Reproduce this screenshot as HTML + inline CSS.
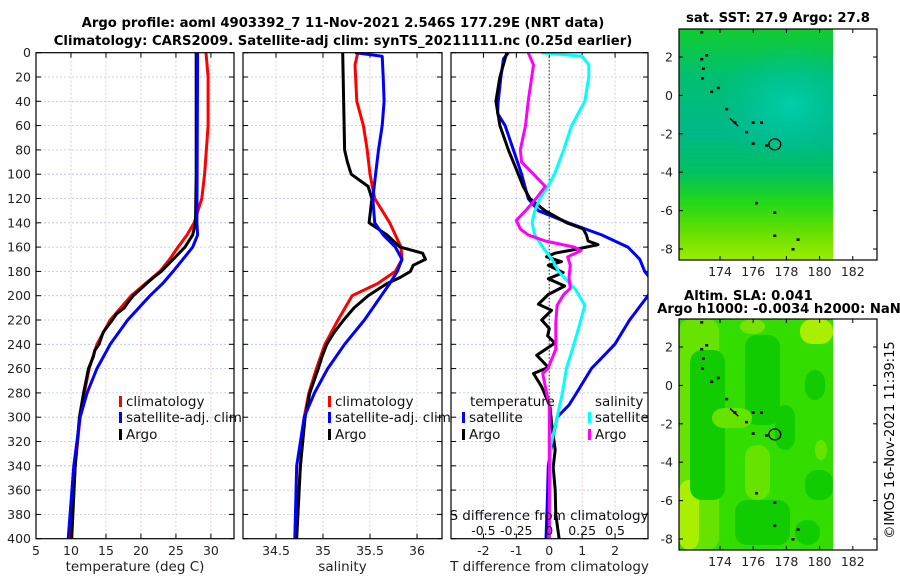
<!DOCTYPE html>
<html><head><meta charset="utf-8">
<style>
html,body{margin:0;padding:0;background:#fff;}
svg{display:block;font-family:"DejaVu Sans","Liberation Sans",sans-serif;}
</style></head>
<body>
<svg id="fig" width="900" height="580" viewBox="0 0 900 580" xmlns="http://www.w3.org/2000/svg">
<defs>
<clipPath id="c1"><rect x="36" y="52" width="198" height="487"/></clipPath>
<clipPath id="c2"><rect x="243" y="52" width="199" height="487"/></clipPath>
<clipPath id="c3"><rect x="451" y="52" width="197" height="487"/></clipPath>
<clipPath id="mc1"><rect x="679" y="29" width="154" height="231"/></clipPath>
<linearGradient id="sstg" x1="0" y1="0" x2="0" y2="1">
<stop offset="0" stop-color="#12cc30"/><stop offset="0.2" stop-color="#00c070"/><stop offset="0.45" stop-color="#00b888"/>
<stop offset="0.62" stop-color="#00c060"/><stop offset="0.75" stop-color="#22d818"/><stop offset="0.88" stop-color="#66e000"/><stop offset="1" stop-color="#9cec00"/>
</linearGradient>
<radialGradient id="sstb" cx="0.5" cy="0.5" r="0.5"><stop offset="0" stop-color="#00d0b0" stop-opacity="0.9"/><stop offset="1" stop-color="#00c0a0" stop-opacity="0"/></radialGradient>
</defs>
<g id="title" font-weight="bold" font-size="13.2" text-anchor="middle">
<text x="343" y="27">Argo profile: aoml 4903392_7 11-Nov-2021 2.546S 177.29E (NRT data)</text>
<text x="343" y="45">Climatology: CARS2009. Satellite-adj clim: synTS_20211111.nc (0.25d earlier)</text>
</g>
<g id="p1"></g>
<g id="p2"></g>
<g id="p3"></g>
<g id="m1"></g>
<g id="m2"></g>
<text x="894" y="440" font-size="13" text-anchor="middle" transform="rotate(-90 894 440)">©IMOS 16-Nov-2021 11:39:15</text>
</svg>
<script>
// ---- data ----
const depthTicks=[0,20,40,60,80,100,120,140,160,180,200,220,240,260,280,300,320,340,360,380,400];
const tempTicks=[5,10,15,20,25,30];
const salTicks=[34.5,35,35.5,36];
const dTTicks=[-2,-1,0,1,2];
const dSTicks=[-0.5,-0.25,0,0.25,0.5];
const dSTickLabels=["-0.5","-0.25","0","0.25","0.5"];

const tClimDepth=[0,20,60,100,120,140,150,160,170,180,200,220,240,260,280,300,340,400];
const tClimVal=[29.3,29.6,29.6,29.1,28.7,27.6,26.6,25.3,24.1,22.7,18.6,15.6,13.7,12.6,11.9,11.3,10.6,10.0];
const tSatDepth=[0,140,150,160,170,180,190,200,220,240,260,280,300,340,400];
const tSatVal=[28.1,28.0,28.1,27.4,26.0,24.6,23.1,21.3,18.1,15.6,13.7,12.3,11.3,10.4,9.6];
const tArgoDepth=[0,100,140,150,160,170,180,185,190,200,205,210,215,220,230,240,245,250,260,280,300,340,400];
const tArgoVal=[27.9,27.9,27.8,27.4,26.3,24.6,22.9,21.8,20.8,18.9,18.2,17.6,16.5,15.9,14.6,14.0,13.4,13.2,12.5,11.8,11.2,10.6,10.1];

const sClimDepth=[0,10,40,60,80,100,120,140,160,170,180,190,200,220,240,260,280,300,340,400];
const sClimVal=[35.37,35.34,35.36,35.43,35.47,35.5,35.55,35.71,35.83,35.84,35.77,35.58,35.31,35.16,35.02,34.93,34.85,34.80,34.76,34.71];
const sSatDepth=[0,3,20,40,60,80,100,120,140,150,160,170,180,190,200,220,240,260,280,300,340,400];
const sSatVal=[35.34,35.63,35.64,35.65,35.63,35.59,35.56,35.53,35.55,35.64,35.77,35.84,35.79,35.71,35.62,35.44,35.23,35.05,34.91,34.80,34.72,34.70];
const sArgoDepth=[0,80,90,100,110,120,140,150,160,165,170,175,180,185,190,200,210,220,230,240,250,260,280,300,340,400];
const sArgoVal=[35.21,35.23,35.26,35.30,35.48,35.52,35.49,35.68,35.82,36.06,36.09,35.96,35.93,35.82,35.68,35.48,35.33,35.22,35.12,35.04,34.99,34.95,34.86,34.81,34.76,34.72];

const dTSatDepth=[0,5,20,40,50,60,80,100,110,120,130,140,150,160,170,180,190,200,220,240,260,280,290,300,320,340,370,400];
const dTSatVal=[-1.24,-1.39,-1.47,-1.55,-1.57,-1.34,-1.09,-0.84,-0.74,-0.64,-0.33,0.58,1.59,2.39,2.75,2.9,3.2,3.0,2.44,1.99,1.28,0.83,0.6,0.24,0.09,-0.03,-0.06,-0.1];
const dTArgoDepth=[0,20,40,60,80,100,110,120,130,140,145,150,155,158,162,165,168,172,175,181,186,192,199,207,212,220,227,233,239,249,259,264,275,291,307,327,341,360,380,400];
const dTArgoVal=[-1.29,-1.5,-1.62,-1.5,-1.24,-0.94,-0.79,-0.59,-0.13,0.53,1.03,1.13,1.18,1.48,0.78,0.17,-0.08,0.37,-0.03,0.42,-0.03,0.47,-0.03,-0.33,0.07,-0.23,0,-0.05,0.17,-0.38,-0.03,-0.48,-0.23,0.02,0.08,0.18,0.12,0.18,0.2,0.3];
const dSSatDepth=[0,3,10,20,40,50,60,80,100,110,120,130,140,150,160,170,180,195,208,220,239,260,280,300,324,350,400];
const dSSatVal=[-0.06,0.25,0.30,0.30,0.27,0.22,0.17,0.11,0.04,-0.01,-0.07,-0.11,-0.13,-0.11,-0.05,0.02,0.07,0.2,0.27,0.24,0.19,0.13,0.1,0.06,0.01,0.01,0.0];
const dSArgoDepth=[0,10,40,60,80,90,100,110,120,130,138,145,150,155,160,163,168,175,185,194,199,208,222,236,244,260,264,291,400];
const dSArgoVal=[-0.16,-0.12,-0.16,-0.18,-0.22,-0.21,-0.12,-0.03,-0.10,-0.18,-0.25,-0.22,-0.16,-0.03,0.19,0.24,0.14,0.16,0.15,0.16,0.11,0.06,0.05,0.05,0.05,-0.01,-0.05,0,0.0];

const latTicks=[2,0,-2,-4,-6,-8];
const lonTicks=[174,176,178,180,182];
const argoLon=177.3, argoLat=-2.55;

// ---- helpers ----
const NS="http://www.w3.org/2000/svg";
function mk(tag,attrs,parent){const e=document.createElementNS(NS,tag);for(const k in attrs)e.setAttribute(k,attrs[k]);parent.appendChild(e);return e;}
const Y0=52.7,YK=1.215;
const yD=d=>Y0+d*YK;
function lin(d0,d1,r0,r1){return v=>r0+(v-d0)*(r1-r0)/(d1-d0);}

function panel(g,left,right,xScale,xticks,xlabels,xTitle,showY){
  mk('rect',{x:left,y:52.7,width:right-left,height:486,fill:'#fff'},g);
  const grid=mk('g',{stroke:'#b8c4ec','stroke-width':0.8,'stroke-dasharray':'2,2'},g);
  
  
  depthTicks.forEach(d=>{ if(d>0&&d<400) mk('line',{x1:left,x2:right,y1:yD(d),y2:yD(d)},grid);});
  xticks.forEach(t=>{const x=xScale(t); if(x>left+1&&x<right-1) mk('line',{x1:x,x2:x,y1:52.7,y2:538.7,stroke:'#e0c0c0'},grid);});
  const ax=mk('g',{stroke:'#000','stroke-width':1},g);
  depthTicks.forEach(d=>{mk('line',{x1:left,x2:left+5,y1:yD(d),y2:yD(d)},ax);mk('line',{x1:right-5,x2:right,y1:yD(d),y2:yD(d)},ax);});
  xticks.forEach(t=>{const x=xScale(t);mk('line',{x1:x,x2:x,y1:538.7,y2:533.7},ax);mk('line',{x1:x,x2:x,y1:52.7,y2:57.7},ax);});
  const tl=mk('g',{'font-size':12.5,'text-anchor':'middle',fill:'#222'},g);
  
  
  xticks.forEach((t,i)=>{const e=mk('text',{x:xScale(t),y:555},tl);e.textContent=xlabels[i];});
  if(showY){
    const yl=mk('g',{'font-size':12.5,'text-anchor':'end',fill:'#222'},g);
    
    
    depthTicks.forEach(d=>{const e=mk('text',{x:31,y:yD(d)+4.5},yl);e.textContent=d;});
  }
  const xt=mk('text',{x:(left+right)/2,y:571,'font-size':13.5,'text-anchor':'middle',fill:'#222'},g);
  
  
  xt.textContent=xTitle;
  return ax;
}
function frame(g,left,right){
  mk('rect',{x:left,y:52.7,width:right-left,height:486,fill:'none',stroke:'#000','stroke-width':1.2},g);
}
function series(g,depths,vals,xScale,color,clip,name,w){
  const pts=depths.map((d,i)=>xScale(vals[i]).toFixed(1)+','+yD(d).toFixed(1)).join(' ');
  const p=mk('polyline',{points:pts,fill:'none',stroke:color,'stroke-width':w||3,'stroke-linejoin':'round','clip-path':'url(#'+clip+')'},g);
  
  
}
function legendEntry(g,x,y,color,label,name){
  const gg=mk('g',{},g);
  
  
  if(color) mk('rect',{x:x,y:y-10,width:3,height:11,fill:color},gg);
  const t=mk('text',{x:x+7,y:y,'font-size':13.5,fill:'#111'},gg);t.textContent=label;
}

// ---- panel 1 ----
const p1=document.getElementById('p1');
const xT=lin(5,33.3,36,234);
panel(p1,36,234,xT,tempTicks,tempTicks.map(String),'temperature (deg C)',true);
series(p1,tClimDepth,tClimVal,xT,'#ff0000','c1','climatology-line');
series(p1,tArgoDepth,tArgoVal,xT,'#000000','c1','argo-line');
series(p1,tSatDepth,tSatVal,xT,'#0000ff','c1','satellite-clim-line');
frame(p1,36,234);
legendEntry(p1,119,406,'#ff0000','climatology','legend-climatology');
legendEntry(p1,119,422,'#0000ff','satellite-adj. clim','legend-satellite');
legendEntry(p1,119,439,'#000000','Argo','legend-argo');

// ---- panel 2 ----
const p2=document.getElementById('p2');
const xS=lin(34.5,36,276,417);
panel(p2,243,442,xS,salTicks,["34.5","35","35.5","36"],'salinity',false);
series(p2,sClimDepth,sClimVal,xS,'#ff0000','c2','climatology-line');
series(p2,sArgoDepth,sArgoVal,xS,'#000000','c2','argo-line');
series(p2,sSatDepth,sSatVal,xS,'#0000ff','c2','satellite-clim-line');
frame(p2,243,442);
legendEntry(p2,328,406,'#ff0000','climatology','legend-climatology');
legendEntry(p2,328,422,'#0000ff','satellite-adj. clim','legend-satellite');
legendEntry(p2,328,439,'#000000','Argo','legend-argo');

// ---- panel 3 ----
const p3=document.getElementById('p3');
const xdT=lin(-3,3,450.5,648);
const xdS=lin(-0.75,0.75,450.5,648);
panel(p3,451,648,xdT,dTTicks,dTTicks.map(String),'T difference from climatology',false);
const z=mk('line',{x1:xdT(0),x2:xdT(0),y1:52.7,y2:538.7,stroke:'#335533','stroke-width':1.2,'stroke-dasharray':'1.5,2'},p3);


series(p3,dTSatDepth,dTSatVal,xdT,'#0000ff','c3','t-diff-satellite');
series(p3,dTArgoDepth,dTArgoVal,xdT,'#000000','c3','t-diff-argo');
series(p3,dSSatDepth,dSSatVal,xdS,'#00ffff','c3','s-diff-satellite');
series(p3,dSArgoDepth,dSArgoVal,xdS,'#ff00ff','c3','s-diff-argo');
frame(p3,451,648);
const tlab=mk('text',{x:470,y:406,'font-size':13.5,fill:'#111'},p3);tlab.textContent='temperature';


const slab=mk('text',{x:595,y:406,'font-size':13.5,fill:'#111'},p3);slab.textContent='salinity';


legendEntry(p3,462,422,'#0000ff','satellite','legend-t-satellite');
legendEntry(p3,462,439,'#000000','Argo','legend-t-argo');
legendEntry(p3,588,422,'#00ffff','satellite','legend-s-satellite');
legendEntry(p3,588,439,'#ff00ff','Argo','legend-s-argo');
const sTitle=mk('text',{x:549,y:520,'font-size':13.5,'text-anchor':'middle',fill:'#111'},p3);


sTitle.textContent='S difference from climatology';
const sl=mk('g',{'font-size':12.5,'text-anchor':'middle',fill:'#111'},p3);


dSTicks.forEach((t,i)=>{const e=mk('text',{x:xdS(t),y:535},sl);e.textContent=dSTickLabels[i];});

// ---- maps ----
const lonX=lin(174,176,720,753.2);
function mapAxes(g,top,bottom){
  const latY=lin(2,0,top+28,top+66.4);
  mk('rect',{x:679,y:top,width:198,height:bottom-top,fill:'none',stroke:'#000','stroke-width':1.2},g);
  const ax=mk('g',{stroke:'#000'},g);
  const lab=mk('g',{'font-size':12.5,fill:'#222'},g);
  latTicks.forEach(l=>{const y=latY(l);mk('line',{x1:679,x2:683,y1:y,y2:y},ax);mk('line',{x1:873,x2:877,y1:y,y2:y},ax);
    const e=mk('text',{x:673,y:y+4.5,'text-anchor':'end'},lab);e.textContent=l;});
  lonTicks.forEach(l=>{const x=lonX(l);mk('line',{x1:x,x2:x,y1:bottom,y2:bottom-4},ax);mk('line',{x1:x,x2:x,y1:top,y2:top+4},ax);
    const e=mk('text',{x:x,y:bottom+16,'text-anchor':'middle'},lab);e.textContent=l;});
  return latY;
}
function islands(g,latY){
  const isl=[[172.9,3.3],[172.9,1.9],[173.0,1.4],[172.95,0.9],[173.5,0.2],[173.9,0.4],[174.4,-0.7],[174.9,-1.4],[175.6,-1.9],[176.0,-1.4],[176.5,-1.4],[176.0,-2.5],[176.8,-2.6],[176.2,-5.6],[177.3,-6.1],[177.3,-7.3],[178.7,-7.5],[178.4,-8.0],[173.2,2.1]];
  const ig=mk('g',{fill:'#000'},g);
  
  
  isl.forEach(p=>mk('rect',{x:lonX(p[0])-1.5,y:latY(p[1])-1,width:3,height:2.5},ig));
  mk('path',{d:`M${lonX(174.6)} ${latY(-1.2)} L${lonX(175.1)} ${latY(-1.6)}`,stroke:'#000','stroke-width':1.5},ig);
  const c=mk('ellipse',{cx:lonX(argoLon),cy:latY(argoLat),rx:6,ry:5.5,fill:'none',stroke:'#000','stroke-width':1.3},g);
  
  
}
const m1=document.getElementById('m1');
mk('rect',{x:679,y:29,width:154,height:231,fill:'url(#sstg)'},m1);
mk('ellipse',{cx:790,cy:105,rx:75,ry:60,fill:'url(#sstb)','clip-path':'url(#mc1)'},m1);
const ly1=mapAxes(m1,29,260);
islands(m1,ly1);
const t1=mk('text',{x:778,y:22,'font-size':13.2,'font-weight':'bold','text-anchor':'middle'},m1);
t1.textContent='sat. SST: 27.9 Argo: 27.8';



const m2=document.getElementById('m2');
mk('rect',{x:679,y:319,width:154,height:231,fill:'#33dd00'},m2);
const blobs=[[679,319,40,231,'#66e400'],[679,480,20,70,'#aaee00'],[800,319,33,25,'#aaee00'],[740,319,25,15,'#77e400'],
 [690,350,35,150,'#11cc00'],[745,335,35,90,'#11cc00'],[775,405,20,45,'#11cc00'],[735,500,55,45,'#11cc00'],[795,520,25,25,'#11cc00'],[805,470,28,30,'#11cc00'],[805,370,20,30,'#11cc00'],
 [745,445,25,55,'#66e400'],[712,408,40,20,'#66e400'],[815,440,12,20,'#66e400']];
blobs.forEach(b=>mk('rect',{x:b[0],y:b[1],width:b[2],height:b[3],fill:b[4],rx:12},m2));
const ly2=mapAxes(m2,319,550);
islands(m2,ly2);
const t2=mk('text',{x:684,y:300,'font-size':13.2,'font-weight':'bold'},m2);
t2.textContent='Altim. SLA: 0.041';


const t3=mk('text',{x:779,y:313,'font-size':13.2,'font-weight':'bold','text-anchor':'middle'},m2);
t3.textContent='Argo h1000: -0.0034 h2000: NaN';


</script>
</body></html>
